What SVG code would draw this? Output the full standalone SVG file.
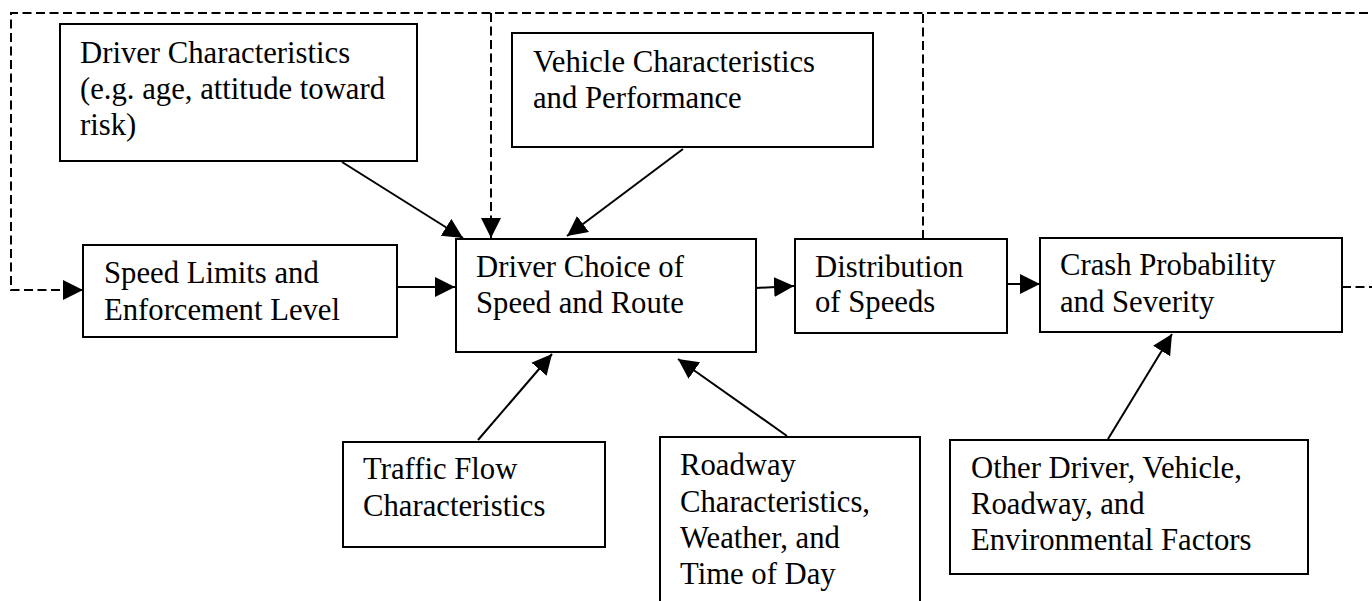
<svg xmlns="http://www.w3.org/2000/svg" width="1372" height="601" viewBox="0 0 1372 601">
  <style>
    .box { fill: #ffffff; stroke: #000000; stroke-width: 2; }
    .lbl { font-family: "Liberation Serif", "Times New Roman", serif; font-size: 30.7px; fill: #000000; }
    .link { fill: none; stroke: #000000; stroke-width: 2; }
    .dash { fill: none; stroke: #000000; stroke-width: 2; stroke-dasharray: 9 4.5; }
  </style>
  <defs>
    <marker id="arrow" markerUnits="userSpaceOnUse" markerWidth="21" markerHeight="21" refX="20" refY="10" orient="auto">
      <path d="M0,0 L20,10 L0,20 z" fill="#000000"/>
    </marker>
  </defs>
  <rect width="1372" height="601" fill="#ffffff"/>

  <g id="connectors">
    <!-- feedback loop: crash box out to the right, across the top, down into speed limits -->
    <path class="dash" d="M1342,287 H1380 V13 H11 V290 H83" marker-end="url(#arrow)"/>
    <path class="dash" d="M923,239 V13"/>
    <path class="dash" d="M491,13 V238" marker-end="url(#arrow)"/>
    <line class="link" x1="342" y1="162" x2="463" y2="238" marker-end="url(#arrow)"/>
    <line class="link" x1="683" y1="149" x2="567" y2="236" marker-end="url(#arrow)"/>
    <line class="link" x1="397" y1="287" x2="455" y2="287" marker-end="url(#arrow)"/>
    <line class="link" x1="756" y1="288" x2="794" y2="286" marker-end="url(#arrow)"/>
    <line class="link" x1="1007" y1="284" x2="1040" y2="284" marker-end="url(#arrow)"/>
    <line class="link" x1="478" y1="440" x2="552" y2="354" marker-end="url(#arrow)"/>
    <line class="link" x1="787" y1="436" x2="678" y2="359" marker-end="url(#arrow)"/>
    <line class="link" x1="1108" y1="439" x2="1172" y2="334" marker-end="url(#arrow)"/>
  </g>

  <g id="driver-characteristics">
    <rect class="box" x="60" y="24" width="357" height="137"/>
    <text class="lbl" x="80" y="63">Driver Characteristics</text>
    <text class="lbl" x="80" y="99">(e.g. age, attitude toward</text>
    <text class="lbl" x="80" y="135">risk)</text>
  </g>

  <g id="vehicle-characteristics">
    <rect class="box" x="512" y="33" width="361" height="114"/>
    <text class="lbl" x="533" y="72">Vehicle Characteristics</text>
    <text class="lbl" x="533" y="108">and Performance</text>
  </g>

  <g id="speed-limits">
    <rect class="box" x="83" y="245" width="314" height="92"/>
    <text class="lbl" x="104" y="283">Speed Limits and</text>
    <text class="lbl" x="104" y="320">Enforcement Level</text>
  </g>

  <g id="driver-choice">
    <rect class="box" x="456" y="239" width="300" height="113"/>
    <text class="lbl" x="476" y="277">Driver Choice of</text>
    <text class="lbl" x="476" y="313">Speed and Route</text>
  </g>

  <g id="distribution">
    <rect class="box" x="795" y="239" width="212" height="94"/>
    <text class="lbl" x="815" y="277">Distribution</text>
    <text class="lbl" x="815" y="312">of Speeds</text>
  </g>

  <g id="crash">
    <rect class="box" x="1040" y="238" width="302" height="94"/>
    <text class="lbl" x="1060" y="275">Crash Probability</text>
    <text class="lbl" x="1060" y="312">and Severity</text>
  </g>

  <g id="traffic-flow">
    <rect class="box" x="343" y="442" width="262" height="105"/>
    <text class="lbl" x="363" y="479">Traffic Flow</text>
    <text class="lbl" x="363" y="516">Characteristics</text>
  </g>

  <g id="roadway">
    <rect class="box" x="660" y="437" width="260" height="180"/>
    <text class="lbl" x="680" y="475">Roadway</text>
    <text class="lbl" x="680" y="512">Characteristics,</text>
    <text class="lbl" x="680" y="548">Weather, and</text>
    <text class="lbl" x="680" y="584">Time of Day</text>
  </g>

  <g id="other-factors">
    <rect class="box" x="950" y="440" width="358" height="134"/>
    <text class="lbl" x="971" y="478">Other Driver, Vehicle,</text>
    <text class="lbl" x="971" y="514">Roadway, and</text>
    <text class="lbl" x="971" y="550">Environmental Factors</text>
  </g>
</svg>
